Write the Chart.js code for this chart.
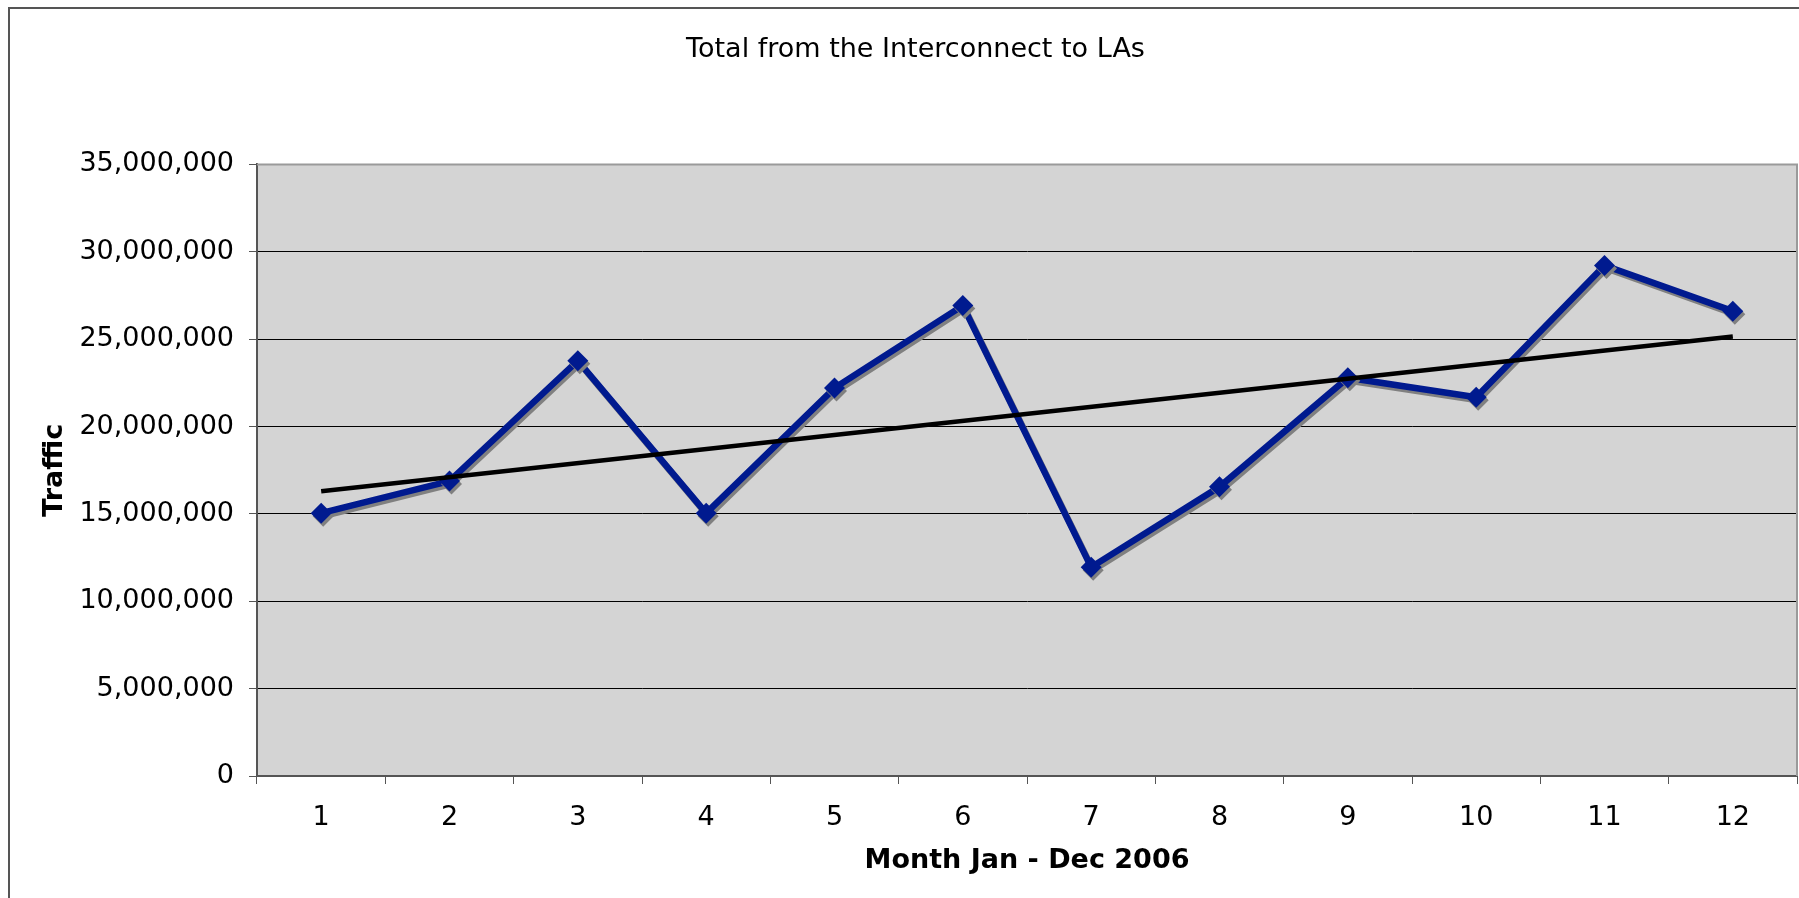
<!DOCTYPE html>
<html><head><meta charset="utf-8">
<script src="https://cdn.jsdelivr.net/npm/chart.js@4.4.1/dist/chart.umd.min.js"></script>
<style>html,body{margin:0;padding:0;background:#fff;overflow:hidden}canvas{display:block}</style>
</head><body>
<canvas id="c" width="1799" height="898"></canvas>
<script>
const months = ['1','2','3','4','5','6','7','8','9','10','11','12'];
const traffic = [15040000, 16880000, 23770000, 15040000, 22200000, 26920000, 11950000, 16550000, 22790000, 21670000, 29220000, 26600000];
const trendMonths = ['1','12'];
const trendValues = [16300000, 25150000];
const yMin = 0, yMax = 35000000, yStep = 5000000;
const chartTitle = 'Total from the Interconnect to LAs';
const xTitle = 'Month Jan - Dec 2006';
const yTitle = 'Traffic';

const FONT = 'DejaVu Sans';

const frame = {
  id: 'frame',
  beforeDraw(chart) {
    const {ctx, chartArea: a} = chart;
    ctx.save();
    ctx.fillStyle = '#fff';
    ctx.fillRect(0, 0, chart.width, chart.height);
    ctx.strokeStyle = '#555';
    ctx.lineWidth = 2;
    ctx.strokeRect(9, 8, chart.width + 20, chart.height + 20);
    ctx.fillStyle = '#d4d4d4';
    ctx.fillRect(a.left, a.top, a.right - a.left, a.bottom - a.top);
    ctx.restore();
  },
  beforeDatasetsDraw(chart) {
    const {ctx, chartArea: a} = chart;
    ctx.save();
    ctx.strokeStyle = '#9a9a9a';
    ctx.lineWidth = 2;
    ctx.beginPath();
    ctx.moveTo(a.left, a.top);
    ctx.lineTo(a.right, a.top);
    ctx.lineTo(a.right, a.bottom);
    ctx.stroke();
    ctx.restore();
  }
};

const shadow = {
  id: 'shadow',
  beforeDatasetDraw(chart, args) {
    if (args.index !== 0) return;
    const ctx = chart.ctx;
    ctx.save();
    ctx.shadowColor = 'rgba(128,128,128,1)';
    ctx.shadowOffsetX = 2;
    ctx.shadowOffsetY = 3;
    ctx.shadowBlur = 0;
  },
  afterDatasetDraw(chart, args) {
    if (args.index !== 0) return;
    chart.ctx.restore();
  }
};

new Chart(document.getElementById('c'), {
  type: 'line',
  data: {
    labels: months,
    datasets: [
      {
        data: traffic,
        order: 1,
        borderColor: '#001a8f',
        backgroundColor: '#001a8f',
        borderWidth: 6.5,
        tension: 0,
        pointStyle: 'rectRot',
        pointRadius: 10.5,
        pointBackgroundColor: '#001a8f',
        pointBorderColor: '#001a8f',
        pointBorderWidth: 0
      },
      {
        data: trendMonths.map((m, i) => ({x: m, y: trendValues[i]})),
        order: 0,
        borderColor: '#000',
        borderWidth: 4.5,
        pointRadius: 0,
        tension: 0
      }
    ]
  },
  options: {
    responsive: false,
    devicePixelRatio: 1,
    animation: false,
    events: [],
    layout: {autoPadding: false, padding: {left: 34, right: 2, top: 0, bottom: 0}},
    plugins: {
      legend: {display: false},
      tooltip: {enabled: false},
      title: {
        display: true,
        text: chartTitle,
        color: '#000',
        font: {family: FONT, size: 27, weight: 'normal'},
        padding: {top: 34, bottom: 98}
      }
    },
    scales: {
      x: {
        type: 'category',
        offset: true,
        grid: {offset: true, drawOnChartArea: false, drawTicks: true, tickLength: 8, tickColor: '#555', tickWidth: 1},
        border: {display: true, color: '#555', width: 2},
        ticks: {color: '#000', font: {family: FONT, size: 27}, padding: 18, maxRotation: 0, autoSkip: false},
        title: {display: true, text: xTitle, color: '#000', font: {family: FONT, size: 27, weight: 'bold'}, padding: {top: 0, bottom: 21}},
        afterFit(s) { s.height = 122; s.paddingLeft = 0; s.paddingRight = 0; }
      },
      y: {
        min: yMin,
        max: yMax,
        ticks: {stepSize: yStep, color: '#000', font: {family: FONT, size: 27}, padding: 15,
          callback: v => Number(v).toLocaleString('en-US')},
        grid: {color: '#000', lineWidth: 1, tickLength: 8, tickColor: '#555'},
        border: {color: '#555', width: 2},
        title: {display: true, text: yTitle, color: '#000', font: {family: FONT, size: 27, weight: 'bold'}, padding: {top: 5, bottom: 0}},
        afterFit(s) { s.width = 223; }
      }
    }
  },
  plugins: [frame, shadow]
});
</script>
</body></html>
